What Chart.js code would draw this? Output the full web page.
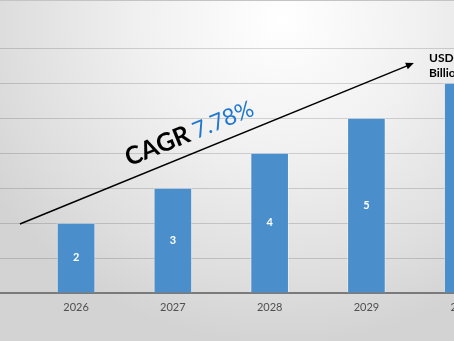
<!DOCTYPE html>
<html><head><meta charset="utf-8">
<script src="https://cdn.jsdelivr.net/npm/chart.js@4/dist/chart.umd.min.js"></script>
<style>
html,body{margin:0;padding:0;width:454px;height:341px;overflow:hidden;}
#wrap{position:absolute;left:0;top:0;width:454px;height:341px;overflow:hidden;
 background:radial-gradient(ellipse 75% 95% at 62% 6%, #ffffff 0%, #f1f1f1 40%, #dedede 80%, #d3d3d3 100%);}
#topline{position:absolute;left:0;top:0;width:454px;height:1px;background:#c4c4c4;z-index:2;}
#box{position:absolute;left:0;top:0;width:560px;height:341px;}
</style></head><body>
<div id="wrap"><div id="topline"></div><div id="box"><canvas id="c"></canvas></div></div>
<script>
const years = [2026, 2027, 2028, 2029, 2030];
const values = [2, 3, 4, 5, 6];
const yTicks = [0, 1, 2, 3, 4, 5, 6, 7];
const cagrLabel = 'CAGR ';
const cagrValue = '7.78%';
const unitLines = ['USD', 'Billion'];

const deco = {
  id: 'deco',
  afterDatasetsDraw(chart) {
    const {ctx, scales: {x, y}} = chart;
    const meta = chart.getDatasetMeta(0);
    ctx.save();
    // value labels
    ctx.fillStyle = '#ffffff';
    ctx.font = 'bold 11px Lato';
    ctx.textAlign = 'center';
    ctx.textBaseline = 'middle';
    meta.data.forEach((bar, i) => {
      const p = bar.getProps(['x', 'y', 'base'], true);
      ctx.fillText(String(values[i]), p.x, (p.y + p.base) / 2);
    });
    // arrow
    const x0 = x.getPixelForValue(2025.42), y0 = y.getPixelForValue(1.97);
    const x1 = x.getPixelForValue(2029.49), y1 = y.getPixelForValue(6.57);
    const len = Math.hypot(x1 - x0, y1 - y0);
    const ux = (x1 - x0) / len, uy = (y1 - y0) / len;
    const nx = uy, ny = -ux;
    ctx.strokeStyle = '#000';
    ctx.lineWidth = 1.5;
    ctx.beginPath();
    ctx.moveTo(x0, y0);
    ctx.lineTo(x1 - ux * 6, y1 - uy * 6);
    ctx.stroke();
    ctx.fillStyle = '#000';
    ctx.beginPath();
    ctx.moveTo(x1, y1);
    ctx.lineTo(x1 - ux * 8 + nx * 3.5, y1 - uy * 8 + ny * 3.5);
    ctx.lineTo(x1 - ux * 8 - nx * 3.5, y1 - uy * 8 - ny * 3.5);
    ctx.closePath();
    ctx.fill();
    // CAGR text
    const ox = x0 + ux * 123 + nx * 12, oy = y0 + uy * 123 + ny * 12;
    ctx.translate(ox, oy);
    ctx.rotate(Math.atan2(uy, ux));
    ctx.textAlign = 'left';
    ctx.textBaseline = 'alphabetic';
    ctx.font = 'bold 25px Lato';
    ctx.fillStyle = '#000';
    ctx.fillText(cagrLabel, 0, 0);
    const w = ctx.measureText(cagrLabel).width;
    ctx.font = '23px Lato';
    ctx.fillStyle = '#1f78cf';
    ctx.fillText(cagrValue, w - 1, 0);
    ctx.setTransform(1, 0, 0, 1, 0, 0);
    // unit text
    ctx.font = 'bold 12px Lato';
    ctx.fillStyle = '#000';
    ctx.textAlign = 'left';
    ctx.textBaseline = 'middle';
    ctx.fillText(unitLines[0], 429, 58);
    ctx.fillText(unitLines[1], 429, 73);
    ctx.restore();
  }
};

new Chart(document.getElementById('c'), {
  type: 'bar',
  data: {
    datasets: [{
      data: years.map((yr, i) => ({x: yr, y: values[i]})),
      backgroundColor: '#4a8fcc',
      borderColor: 'rgba(255,255,255,0.35)',
      borderWidth: 1,
      barThickness: 38
    }]
  },
  options: {
    responsive: true,
    maintainAspectRatio: false,
    animation: false,
    layout: {padding: {top: 48, left: 0, right: 0, bottom: 0}},
    plugins: {legend: {display: false}, tooltip: {enabled: false}},
    scales: {
      x: {
        type: 'linear', min: 2025.214, max: 2031, offset: false,
        afterBuildTicks: s => { s.ticks = years.map(v => ({value: v})); },
        grid: {display: false, drawTicks: false, offset: false},
        border: {display: true, color: '#7a7a7a', width: 2},
        ticks: {callback: v => String(v), font: {family: 'Lato', size: 11}, color: '#505050', padding: 8, maxRotation: 0, autoSkip: false},
        afterFit: s => { s.height = 48; }
      },
      y: {
        min: 0, max: 7,
        afterBuildTicks: s => { s.ticks = yTicks.map(v => ({value: v})); },
        ticks: {display: false},
        grid: {color: 'rgba(0,0,0,0.15)', drawTicks: false},
        border: {display: false},
        afterFit: s => { s.width = 0; }
      }
    }
  },
  plugins: [deco]
});
</script>
</body></html>
